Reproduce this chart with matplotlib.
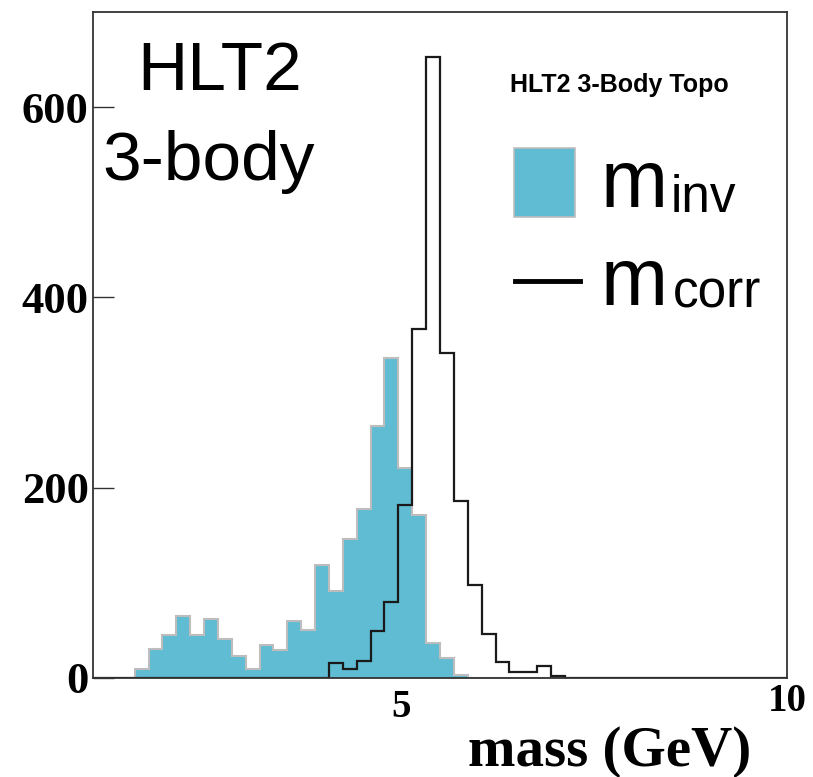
import numpy as np
import matplotlib.pyplot as plt
from matplotlib.transforms import ScaledTranslation

# 50 bins between 1 and 10 GeV
edges = np.linspace(1, 10, 51)

m_inv = [0, 0, 0, 9, 30, 45, 65, 45, 62, 41,
         23, 9, 34, 29, 60, 50, 118, 91, 146, 177,
         265, 336, 220, 171, 36, 21, 3, 0, 0, 0,
         0, 0, 0, 0, 0, 0, 0, 0, 0, 0,
         0, 0, 0, 0, 0, 0, 0, 0, 0, 0]

m_corr = [0, 0, 0, 0, 0, 0, 0, 0, 0, 0,
          0, 0, 0, 0, 0, 0, 0, 15, 9, 18,
          49, 80, 182, 367, 653, 341, 186, 97, 46, 17,
          6, 6, 12, 2, 0, 0, 0, 0, 0, 0,
          0, 0, 0, 0, 0, 0, 0, 0, 0, 0]

y_ticks = [0, 200, 400, 600]
x_ticks = [5, 10]

fill_col = '#5fbcd3'

fig = plt.figure(figsize=(8.13, 7.77), dpi=100)
ax = fig.add_axes([93/813, 1 - 677.7/777, (787 - 93)/813, (677.7 - 12)/777])

ax.stairs(m_inv, edges, fill=True, facecolor=fill_col, edgecolor='#bdbdbd', lw=1.5)
ax.stairs(m_corr, edges, fill=False, color='#1a1a1a', lw=1.6)

ax.set_xlim(1, 10)
ax.set_ylim(0, 700)

for s in ax.spines.values():
    s.set_color('#333333')
    s.set_linewidth(1.3)

serif = 'Liberation Serif'
ax.set_yticks(y_ticks)
ax.set_yticklabels([str(v) for v in y_ticks], fontfamily=serif, fontweight='bold', fontsize=32)
ax.tick_params(axis='y', direction='in', length=15, width=1, pad=3, color='#333333')
ax.set_xticks(x_ticks)
ax.set_xticklabels([str(v) for v in x_ticks], fontfamily=serif, fontweight='bold', fontsize=28)
ax.tick_params(axis='x', length=0, pad=8)
# ROOT pushes the last label up a bit
lab10 = ax.get_xticklabels()[1]
lab10.set_transform(lab10.get_transform() + ScaledTranslation(0, 6/100, fig.dpi_scale_trans))

fig.text(751/813, 1 - 766/777, 'mass (GeV)', ha='right', va='baseline',
         fontfamily=serif, fontweight='bold', fontsize=41)

# big label top-left
sans = dict(fontfamily='Liberation Sans')
fig.text(137/813, 1 - 90/777, 'HLT2', ha='left', va='baseline', fontsize=50, **sans)
fig.text(102/813, 1 - 180/777, '3-body', ha='left', va='baseline', fontsize=50, **sans)

fig.text(510/813, 1 - 92/777, 'HLT2 3-Body Topo', ha='left', va='baseline',
         fontfamily='Liberation Sans', fontweight='bold', fontsize=18)

# hand-made legend
leg_box = plt.Rectangle((514/813, 1 - 217/777), 61/813, 69/777, transform=fig.transFigure,
                        facecolor=fill_col, edgecolor='#bdbdbd', lw=1.2)
fig.add_artist(leg_box)
fig.add_artist(plt.Line2D([515/813, 580/813], [1 - 281/777, 1 - 281/777],
                          transform=fig.transFigure, color='black', lw=3.5))
fig.text(601/813, 1 - 207/777, 'm', ha='left', va='baseline', fontsize=58, **sans)
fig.text(671/813, 1 - 212/777, 'inv', ha='left', va='baseline', fontsize=37, **sans)
fig.text(601/813, 1 - 305/777, 'm', ha='left', va='baseline', fontsize=58, **sans)
fig.text(673/813, 1 - 307/777, 'corr', ha='left', va='baseline', fontsize=37, **sans)

fig.savefig('out.png', dpi=100)
